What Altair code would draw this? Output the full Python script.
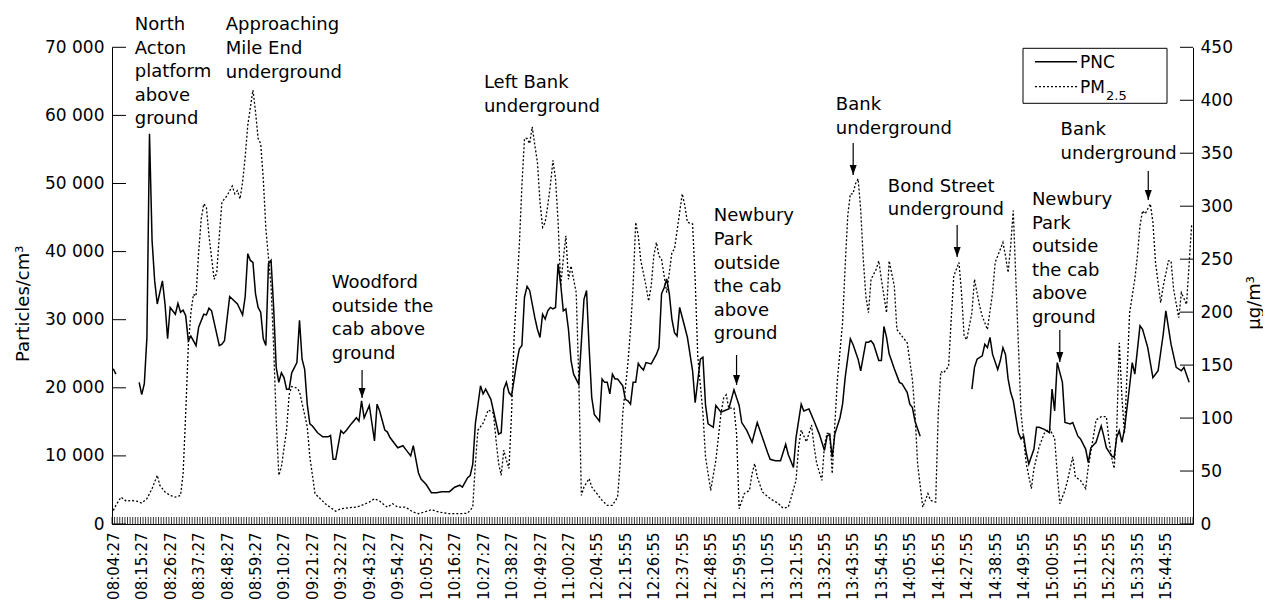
import json
import altair as alt
import pandas as pd

# ---------------- data ----------------
tick_labels = [
    "08:04:27", "08:15:27", "08:26:27", "08:37:27", "08:48:27", "08:59:27",
    "09:10:27", "09:21:27", "09:32:27", "09:43:27", "09:54:27", "10:05:27",
    "10:16:27", "10:27:27", "10:38:27", "10:49:27", "11:00:27", "12:04:55",
    "12:15:55", "12:26:55", "12:37:55", "12:48:55", "12:59:55", "13:10:55",
    "13:21:55", "13:32:55", "13:43:55", "13:54:55", "14:05:55", "14:16:55",
    "14:27:55", "14:38:55", "14:49:55", "15:00:55", "15:11:55", "15:22:55",
    "15:33:55", "15:44:55",
]
label_step = 11
n_samples = 418

# PNC (particles/cm3); None marks a gap in the record
pnc_idx = [0, 1, 5,
    10, 11, 12, 13, 14, 15, 16, 17, 19, 20, 21, 22, 24, 25, 26, 27, 28, 29, 30, 32, 33, 35, 36, 37, 38,
    41, 42, 43, 45, 48, 50, 51, 52, 53, 54, 55, 56, 57, 58, 59, 60, 61, 62, 63, 64, 65, 66, 67, 68, 69,
    71, 72, 73, 74, 75, 76, 77, 79, 81, 83, 84, 85, 86, 88, 89, 90, 92, 94, 95, 96, 97, 99, 101, 102,
    103, 105, 106, 107, 110, 112, 113, 115, 116, 118, 119, 121, 123, 125, 127, 130, 132, 134, 135, 137,
    138, 139, 140, 142, 143, 144, 146, 148, 149, 150, 151, 152, 153, 154, 156, 157, 158, 159, 160, 161,
    163, 164, 165, 166, 167, 168, 169, 170, 171, 172, 173, 174, 175, 176, 177, 178, 180, 182, 183, 184,
    185, 186, 188, 189, 190, 191, 192, 193, 194, 195, 197, 198, 199, 200, 201, 202, 203, 204, 205, 206,
    208, 209, 210, 211, 212, 213, 214, 215, 216, 217, 218, 219, 221, 222, 224, 225, 227, 228, 229, 230,
    232, 233, 234, 235, 236, 238, 240, 242, 243, 245, 247, 249, 251, 253, 254, 256, 258, 260, 261, 263,
    264, 266, 267, 269, 271, 273, 275, 276, 277, 278, 279, 281, 282, 283, 285, 286, 288, 289, 291, 292,
    293, 294, 296, 297, 298, 299, 300, 302, 304, 305, 307, 308, 309, 310, 312, 320,
    332, 333, 334, 336, 337, 338, 339, 340, 342, 343, 344, 345, 346, 347, 348, 350, 351, 352, 353, 354,
    356, 357, 358, 360, 362, 363, 364, 365, 367, 368, 370, 371, 373, 374, 376, 377, 378, 380, 381, 382,
    383, 384, 386, 387, 388, 389, 390, 391, 393, 394, 395, 397, 398, 400, 402, 404, 406, 407, 409, 411,
    413, 414, 416]
pnc_val = [22800, 22000, None,
    20800, 19000, 20600, 27400, 57300, 41600, 35700, 32300, 35700, 32300, 27200, 31800, 30800, 32400,
    31100, 31400, 30600, 26900, 27600, 26200, 28900, 30800, 30700, 31700, 31300,
    26200, 26400, 26900, 33400, 32300, 30700, 33400, 39700, 38700, 38400, 33800, 31800, 31100, 27200,
    26200, 38200, 38700, 31800, 23000, 20800, 22200, 21500, 19800, 19800, 22200,
    23700, 29900, 24200, 22700, 17600, 14700, 14400, 13400, 12800, 12800, 13000, 9500, 9500, 13700,
    13300, 13700, 14700, 15600, 15100, 18100, 15600, 17400, 12200, 17600,
    16600, 13800, 13500, 12700, 11200, 11500, 11000, 10000, 11500, 7500, 6600, 5800, 4600, 4600, 4750,
    4750, 5400, 5700, 5400, 6800,
    7100, 8800, 14700, 20300, 19100, 19800, 18300, 14900, 13200, 13400, 19800, 20800, 19300, 18800,
    23700, 25700, 26200, 33300, 34900, 34300,
    30300, 28600, 27400, 30800, 30100, 31300, 31800, 31600, 31800, 38200, 35200, 31300, 31600, 28600,
    24000, 22000, 20500, 33000, 34300, 25900,
    18600, 16100, 15100, 21300, 20800, 20800, 19100, 22000, 21300, 21300, 20300, 18300, 18100, 17600,
    20800, 20800, 23600, 23000, 22600, 23700,
    23500, 24200, 24900, 25900, 33800, 34700, 36000, 33800, 30100, 28100, 27600, 31800, 28900, 27400,
    22500, 17800, 24200, 24500, 17500, 14700,
    14200, 17400, 16900, 16400, 16600, 16900, 19700, 17400, 14900, 13700, 12000, 14900, 12700, 10500,
    9500, 9300, 9300, 11700, 10200, 8300,
    12700, 17600, 16600, 16900, 15100, 13200, 10800, 12900, 13200, 9800, 13200, 15600, 17600, 21500,
    27200, 26400, 24200, 22500, 26700, 26700,
    26900, 26400, 24000, 24000, 29000, 27400, 25000, 22800, 20800, 20600, 19300, 17600, 17100, 15100,
    12900, None,
    19800, 23000, 24200, 24700, 26400, 25900, 27400, 24900, 22700, 24000, 25900, 24900, 21300, 19300,
    18100, 13400, 12500, 12900, 10500, 8800,
    11000, 14200, 14200, 13900, 13400, 19800, 16600, 23700, 20800, 14900, 14700, 14900, 12900, 12500,
    11000, 9000, 11200, 12000, 13200, 14400,
    12900, 11200, 10000, 9800, 12700, 13700, 12000, 13900, 20300, 23700, 22000, 29100, 28600, 25900,
    21500, 22500, 27900, 31300, 26400, 23000,
    22500, 23000, 20800]

# PM2.5 (ug/m3)
pm_idx = [0, 1, 3, 5, 7, 9, 11, 13, 15, 17, 18, 20, 22, 24, 26, 27, 28, 29, 30, 31, 32, 33, 34, 35,
    36, 37, 39, 40, 41, 42, 44, 46, 47, 48, 49, 50, 51, 52, 54, 55, 56, 57, 58, 59, 61, 62, 63, 64, 65,
    67, 68, 69, 71, 72, 73, 75, 76, 78, 80, 82, 84, 86, 88, 91, 94, 96, 99, 101, 103, 105, 106, 108,
    110, 113, 116, 118, 121, 123, 126, 130, 134, 137, 139, 140, 141, 143, 144, 145, 147, 148, 149, 150,
    151, 152, 153, 154, 155, 157, 158, 159, 160, 161, 162, 163, 164, 165, 166, 167, 168, 169, 170, 171,
    172, 173, 174, 175, 176, 177, 178, 179, 180, 181, 182, 184, 185, 187, 189, 191, 193, 195, 196, 197,
    199, 200, 201, 202, 203, 204, 206, 207, 208, 209, 210, 211, 212, 213, 214, 216, 217, 219, 220, 221,
    222, 224, 225, 226, 228, 229, 231, 233, 235, 236, 237, 238, 240, 241, 242, 244, 246, 247, 248, 249,
    251, 254, 257, 259, 261, 262, 264, 265, 266, 268, 270, 271, 272, 274, 275, 276, 277, 278, 279, 280,
    282, 283, 284, 285, 286, 287, 288, 289, 290, 291, 292, 293, 295, 296, 297, 299, 300, 302, 303, 305,
    307, 309, 310, 311, 313, 315, 316, 318, 319, 320, 321, 323, 324, 325, 327, 328, 329, 330, 332, 333,
    335, 336, 338, 340, 341, 342, 344, 345, 346, 347, 348, 349, 350, 351, 353, 355, 356, 358, 360, 362,
    364, 365, 366, 368, 369, 371, 372, 374, 376, 377, 379, 380, 382, 384, 385, 386, 387, 388, 389, 390,
    391, 392, 393, 395, 396, 397, 398, 399, 401, 402, 403, 405, 406, 408, 409, 410, 412, 413, 415, 417]
pm_val = [12.8, 17.6, 25.4, 21.6, 22.3, 21.6, 19.7, 23.9, 33.4, 46, 36.5, 30.2, 27, 25.4, 27, 47.6,
    104.6, 167.7, 199.4, 216.8, 215.2, 256.4, 288, 302.2,
    299, 272.1, 231, 237.4, 272.1, 303.8, 310, 319, 311.7, 314.8, 306.9, 322.8, 346.5, 376.5, 409.7,
    389.2, 363.9, 359.1, 325.9, 278.5, 224.7, 167.7, 98.2, 46, 53.9,
    88.7, 121.9, 129.8, 128.3, 125, 114, 91.8, 63.4, 28.7, 23.9, 19.2, 15.4, 12.1, 14.4, 15.4, 15.9,
    17.6, 20.7, 23.9, 21.6, 17.6, 15.9, 19.2,
    15.9, 15.9, 11.2, 9.7, 11.9, 13.5, 11.2, 9.7, 9.7, 10.2, 15.9, 57.1, 88.7, 95.1, 101.3, 107.7, 104.6,
    79.2, 57.1, 46,
    69.7, 60.2, 52.4, 104.6, 177.2, 262.6, 319.6, 363.9, 363.9, 359.1, 375, 357.5, 341.7, 303.8, 280.1,
    284.8, 300.6, 319.6, 343.3, 325.9,
    284.8, 224.7, 250, 272.1, 231, 243.6, 231, 218.4, 136.2, 27, 34.9, 42.9, 34.9, 28.7, 22.3, 17.6,
    17.6, 25.4, 57.1, 104.6,
    152, 183.6, 224.7, 284.8, 272.1, 248.4, 224.7, 210.4, 224.7, 253.1, 265.8, 253.1, 250, 234.2, 218.4,
    256.4, 259.5, 294.3, 311.7, 300.6,
    284.8, 283.2, 231, 158.3, 104.6, 63.4, 31.8, 60.2, 104.6, 118.8, 121.9, 109.3, 109.3, 85.6, 14.4,
    28.7, 31.8, 47.6, 57.1, 44.4,
    30.2, 23.9, 19.7, 15, 15.9, 23.9, 41.2, 72.9, 88.7, 77.6, 93.4, 72.9, 57.1, 41.2, 74.5, 85.6, 85.6,
    47.6, 93.4, 136.2,
    190, 243.6, 291.1, 311.7, 311.7, 321.2, 325.9, 297.4, 250, 215.2, 199.4, 231, 240.5, 248.4, 231,
    199.4, 248.4, 224.7, 183.6, 177.2,
    171, 136.2, 104.6, 57.1, 15.9, 28.7, 22.3, 20.7, 104.6, 144, 142.5, 148.8, 193.1, 234.2, 246.9,
    218.4, 177.2, 174.1, 199.4, 231,
    205.7, 196.2, 183.6, 218.4, 246.9, 253.1, 265.8, 253.1, 237.4, 262.6, 295.8, 231, 167.7, 104.6, 57.1,
    33.4, 52.4, 72.9, 85.6, 90.3,
    80.8, 47.6, 19.2, 31.8, 41.2, 63.4, 44.4, 41.2, 33.4, 53.9, 82.4, 98.2, 101.3, 101.3, 79.2, 63.4,
    52.4, 88.7, 171, 120.3,
    85.6, 142.5, 199.4, 231, 253.1, 281.6, 295.8, 292.7, 302.2, 284.8, 246.9, 208.9, 224.7, 248.4, 248.4,
    221.5, 194.7, 218.4, 207.3, 283.2]

pnc_ticks = [0, 10000, 20000, 30000, 40000, 50000, 60000, 70000]
pm_ticks = [0, 50, 100, 150, 200, 250, 300, 350, 400, 450]

ann_text = [
    "North\nActon\nplatform\nabove\nground",
    "Approaching\nMile End\nunderground",
    "Woodford\noutside the\ncab above\nground",
    "Left Bank\nunderground",
    "Newbury\nPark\noutside\nthe cab\nabove\nground",
    "Bank\nunderground",
    "Bond Street\nunderground",
    "Newbury\nPark\noutside\nthe cab\nabove\nground",
    "Bank\nunderground",
]
ann_idx = [8.3, 43.5, 84.5, 143.3, 232.2, 279.4, 299.5, 355.2, 366.3]
ann_val = [72540, 72470, 34660, 64030, 44420, 60800, 48800, 46850, 57130]

arrow_idx = [96.2, 241.0, 286.1, 326.3, 366.0, 400.2]
arrow_top = [22615, 24818, 55950, 43898, 28489, 51838]
arrow_tip = [18503, 20412, 51251, 39209, 23790, 47579]

legend_main = ["PNC", "PM"]
legend_sub = "2.5"

# ---------------- frames ----------------
pnc = pd.DataFrame({"i": pnc_idx, "v": pnc_val})
pnc["seg"] = pnc["v"].isna().cumsum()
pnc = pnc.dropna().copy()

pm = pd.DataFrame({"i": pm_idx, "v": pm_val})

ann = pd.DataFrame({"i": ann_idx, "v": ann_val, "t": ann_text})
arrows = pd.DataFrame({"i": arrow_idx, "v": arrow_top, "v2": arrow_tip})
xticks = pd.DataFrame({"i": [k - 0.5 for k in range(n_samples + 1)]})
lticks = pd.DataFrame({"v": pnc_ticks})
rticks = pd.DataFrame({"v": pm_ticks})

W, H = 1081, 476.7
FONT = "DejaVu Sans"

xscale = alt.Scale(domain=[-0.5, n_samples - 0.5], nice=False, zero=False)
yl = alt.Scale(domain=[0, 70000], nice=False, zero=True)
yr = alt.Scale(domain=[0, 450], nice=False, zero=True)

x_axis = alt.Axis(
    values=list(range(0, label_step * len(tick_labels), label_step)),
    labelExpr=json.dumps(tick_labels) + "[round(datum.value/" + str(label_step) + ")]",
    labelAngle=270, ticks=False, grid=False, title=None, labelFontSize=15,
    labelPadding=8, labelFlush=False, labelOverlap=False, labelBound=False,
    domainColor="black",
)
yl_axis = alt.Axis(
    orient="left", values=pnc_ticks,
    labelExpr="replace(format(datum.value, ','), ',', ' ')",
    ticks=False, grid=False, labelFontSize=17, labelPadding=8,
    title="Particles/cm\u00b3", titleFontSize=18, titleAngle=270,
    titleX=-84, titleY=256, titleAlign="center", titleBaseline="alphabetic",
    domainColor="black",
)
yr_axis = alt.Axis(
    orient="right", values=pm_ticks, ticks=False, grid=False,
    labelFontSize=17, labelPadding=7,
    title="\u00b5g/m\u00b3", titleFontSize=18, titleAngle=270,
    titleX=66, titleY=255, titleAlign="center", titleBaseline="alphabetic",
    domainColor="black",
)

X = alt.X("i:Q", scale=xscale, axis=x_axis)
YL = alt.Y("v:Q", scale=yl)
YR = alt.Y("v:Q", scale=yr)

pnc_line = alt.Chart(pnc).mark_line(color="black", strokeWidth=1.5).encode(
    x=X, y=alt.Y("v:Q", scale=yl, axis=yl_axis), detail="seg:N",
)
pm_line = alt.Chart(pm).mark_line(color="black", strokeWidth=1.3, strokeDash=[2, 2]).encode(
    x=X, y=alt.Y("v:Q", scale=yr, axis=yr_axis),
)

xt = alt.Chart(xticks).mark_rule(color="black", strokeWidth=0.8).encode(
    x=X, y=alt.value(H - 7), y2=alt.value(H),
)
lt = alt.Chart(lticks).mark_rule(color="black", strokeWidth=1).encode(
    y=YL, x=alt.value(0), x2=alt.value(14),
)
rt = alt.Chart(rticks).mark_rule(color="black", strokeWidth=1).encode(
    y=YR, x=alt.value(W - 13), x2=alt.value(W),
)
texts = alt.Chart(ann).mark_text(
    align="left", baseline="alphabetic", lineBreak="\n", lineHeight=23.6,
    font=FONT, fontSize=18, color="black",
).encode(x=X, y=YL, text="t:N")
arrow_lines = alt.Chart(arrows).mark_rule(color="black", strokeWidth=1.2).encode(
    x=X, y=YL, y2="v2:Q",
)
arrow_heads = alt.Chart(arrows).mark_point(
    shape="M-0.7,-2L0.7,-2L0,0Z", filled=True, color="black", size=100, opacity=1,
).encode(x=X, y=alt.Y("v2:Q", scale=yl))

# ---- legend box (pixel positions inside the plot area) ----
LX0, LX1, LY0, LY1 = 911, 1055, 1, 56
leg_df = pd.DataFrame({"t": [legend_main[0]]})
leg_box = alt.Chart(leg_df).mark_rect(fill="white", stroke="black", strokeWidth=1).encode(
    x=alt.value(LX0), x2=alt.value(LX1), y=alt.value(LY0), y2=alt.value(LY1),
)
leg_solid = alt.Chart(leg_df).mark_rule(color="black", strokeWidth=1.5).encode(
    x=alt.value(LX0 + 12), x2=alt.value(LX0 + 54), y=alt.value(LY0 + 13.4),
)
leg_dot = alt.Chart(leg_df).mark_rule(color="black", strokeWidth=1.3, strokeDash=[2, 2]).encode(
    x=alt.value(LX0 + 12), x2=alt.value(LX0 + 54), y=alt.value(LY0 + 38.4),
)
leg_t1 = alt.Chart(pd.DataFrame({"t": [legend_main[0]]})).mark_text(
    align="left", baseline="alphabetic", font=FONT, fontSize=17, color="black",
).encode(x=alt.value(LX0 + 57), y=alt.value(LY0 + 20), text="t:N")
leg_t2 = alt.Chart(pd.DataFrame({"t": [legend_main[1]]})).mark_text(
    align="left", baseline="alphabetic", font=FONT, fontSize=17, color="black",
).encode(x=alt.value(LX0 + 57), y=alt.value(LY0 + 45), text="t:N")
leg_t3 = alt.Chart(pd.DataFrame({"t": [legend_sub]})).mark_text(
    align="left", baseline="alphabetic", font=FONT, fontSize=13, color="black",
).encode(x=alt.value(LX0 + 83), y=alt.value(LY0 + 51.7), text="t:N")

left_layer = alt.layer(pnc_line, xt, lt, texts, arrow_lines, arrow_heads)
right_layer = alt.layer(pm_line, rt, leg_box, leg_solid, leg_dot, leg_t1, leg_t2, leg_t3)

chart = alt.layer(left_layer, right_layer).resolve_scale(y="independent").properties(
    width=W, height=H,
    autosize=alt.AutoSizeParams(type="none"),
    padding={"left": 104, "top": 39.3, "right": 70, "bottom": 75},
).configure_view(strokeOpacity=0).configure_axis(
    labelFont=FONT, titleFont=FONT, labelColor="black", titleColor="black",
    titleFontWeight="normal", domainWidth=1,
).configure_axisX(labelOverlap=False)

chart.save("out.html", embed_options={"renderer": "svg", "actions": False})
